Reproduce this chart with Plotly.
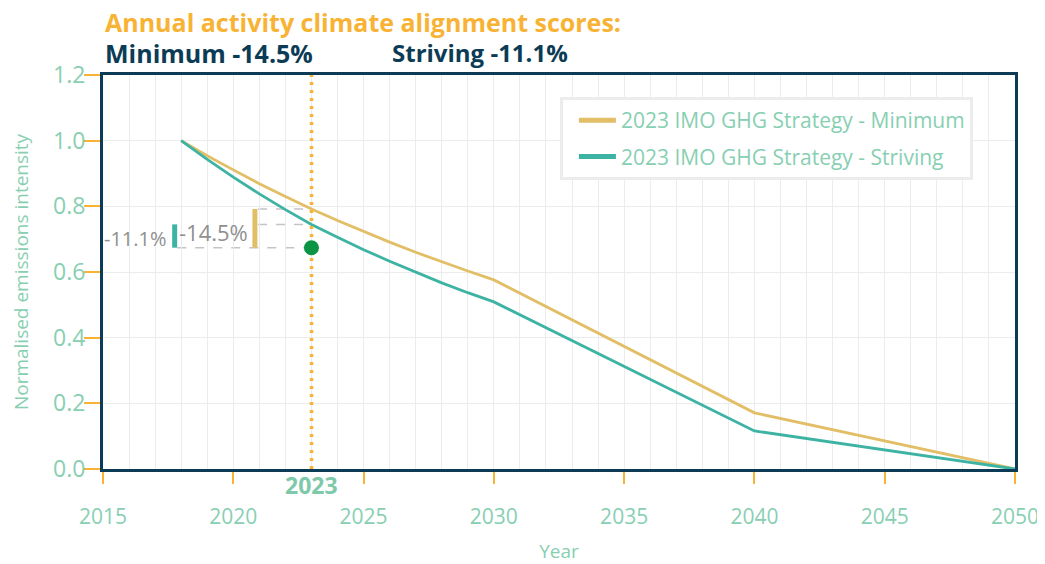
import plotly.graph_objects as go

# pathway values (normalised emissions intensity, 2018 = 1.0)
years = [2018, 2019, 2020, 2021, 2022, 2023, 2024, 2025, 2026, 2027, 2028, 2029, 2030, 2040, 2050]
minimum = [1.0, 0.954, 0.911, 0.869, 0.830, 0.792, 0.757, 0.723, 0.691, 0.660, 0.631, 0.603, 0.576, 0.171, 0.0]
striving = [1.0, 0.943, 0.889, 0.838, 0.790, 0.745, 0.706, 0.668, 0.633, 0.599, 0.567, 0.537, 0.509, 0.116, 0.0]

# reporting year + actual intensity
report_year = 2023
actual = 0.674
min_2023 = 0.792
striv_2023 = 0.745
score_min = "-14.5%"
score_striv = "-11.1%"

navy = "#0c3c55"
orange = "#f8b334"
green_txt = "#88cfb2"
gold = "#e2bf67"
teal = "#3db3a3"
font = "Open Sans"

fig = go.Figure()

fig.add_trace(go.Scatter(x=years, y=minimum, mode="lines", line=dict(color=gold, width=2.8),
                         showlegend=False, hoverinfo="skip"))
fig.add_trace(go.Scatter(x=years, y=striving, mode="lines", line=dict(color=teal, width=2.8),
                         showlegend=False, hoverinfo="skip"))

# legend only entries (thicker sample)
fig.add_trace(go.Scatter(x=[None], y=[None], mode="lines", line=dict(color=gold, width=5),
                         name="2023 IMO GHG Strategy - Minimum", legendgroup="a"))
fig.add_trace(go.Scatter(x=[None], y=[None], mode="lines", line=dict(color=teal, width=5),
                         name="2023 IMO GHG Strategy - Striving", legendgroup="b"))

# dotted reporting year line
fig.add_trace(go.Scatter(x=[report_year, report_year], y=[0, 1.2], mode="lines",
                         line=dict(color=orange, width=3.5, dash="3px,5px"),
                         showlegend=False, hoverinfo="skip"))

# gap markers
x_bar_min = 2020.83
x_bar_striv = 2017.75
dash_col = "#c4c4c4"
fig.add_shape(type="line", x0=x_bar_min + 0.12, x1=report_year, y0=min_2023, y1=min_2023,
              line=dict(color=dash_col, width=1.5, dash="dash"), layer="below")
fig.add_shape(type="line", x0=x_bar_min + 0.12, x1=report_year, y0=striv_2023, y1=striv_2023,
              line=dict(color=dash_col, width=1.5, dash="dash"), layer="below")
fig.add_shape(type="line", x0=x_bar_striv + 0.1, x1=report_year, y0=actual, y1=actual,
              line=dict(color=dash_col, width=1.5, dash="dash"), layer="below")
fig.add_shape(type="line", x0=x_bar_min, x1=x_bar_min, y0=actual, y1=min_2023,
              line=dict(color=gold, width=5))
fig.add_shape(type="line", x0=x_bar_striv, x1=x_bar_striv, y0=actual, y1=striv_2023,
              line=dict(color=teal, width=5))

fig.add_trace(go.Scatter(x=[report_year], y=[actual], mode="markers",
                         marker=dict(color="#0b9444", size=15), showlegend=False, hoverinfo="skip"))

fig.add_annotation(x=x_bar_min - 0.2, y=0.721, text=score_min, showarrow=False, xanchor="right",
                   font=dict(family=font, size=22, color="#909090"))
fig.add_annotation(x=x_bar_striv - 0.2, y=0.702, text=score_striv, showarrow=False, xanchor="right",
                   font=dict(family=font, size=20, color="#909090"))

# 2023 label under axis
fig.add_annotation(x=report_year, yref="paper", y=-0.041, text="<b>2023</b>", showarrow=False,
                   yanchor="middle", font=dict(family=font, size=23, color="#7dc9a9"))

# titles
fig.add_annotation(xref="paper", yref="paper", x=0, y=1.134, xanchor="left", yanchor="middle",
                   text="<b>Annual activity climate alignment scores:</b>", showarrow=False,
                   font=dict(family=font, size=25, color=orange))
fig.add_annotation(xref="paper", yref="paper", x=0, y=1.056, xanchor="left", yanchor="middle",
                   text="<b>Minimum " + score_min + "</b>", showarrow=False,
                   font=dict(family=font, size=25, color=navy))
fig.add_annotation(xref="paper", yref="paper", x=0.315, y=1.056, xanchor="left", yanchor="middle",
                   text="<b>Striving " + score_striv + "</b>", showarrow=False,
                   font=dict(family=font, size=24, color=navy))

# page body has an 8px margin, so figure is 8px smaller than the window
fig.update_layout(
    width=1037, height=556,
    margin=dict(l=95, r=30, t=67, b=95),
    plot_bgcolor="white", paper_bgcolor="white",
    font=dict(family=font, color=green_txt),
    legend=dict(x=0.501, y=0.944, xanchor="left", yanchor="top",
                bordercolor="#ececec", borderwidth=3, bgcolor="white",
                font=dict(size=21, color=green_txt), tracegroupgap=6,
                indentation=11, itemwidth=37),
)

fig.update_xaxes(range=[2015, 2050], dtick=5, tick0=2015, automargin=False,
                 showline=True, linecolor=navy, linewidth=3, mirror=True,
                 ticks="outside", ticklen=12, tickcolor=orange, tickwidth=1.5,
                 tickfont=dict(size=21, color=green_txt), ticklabelstandoff=15,
                 showgrid=True, gridcolor="#ececec", gridwidth=1,
                 minor=dict(dtick=1, showgrid=True, gridcolor="#ececec", gridwidth=1),
                 zeroline=False,
                 title=dict(text="Year", font=dict(size=19, color=green_txt), standoff=18))
fig.update_yaxes(range=[0, 1.2], dtick=0.2, tickformat=".1f", automargin=False,
                 showline=True, linecolor=navy, linewidth=3, mirror=True,
                 ticks="outside", ticklen=16, tickcolor=orange, tickwidth=1.5,
                 tickfont=dict(size=23, color=green_txt), ticklabelstandoff=-6,
                 showgrid=True, gridcolor="#ececec", gridwidth=1, zeroline=False,
                 title=dict(text="Normalised emissions intensity", font=dict(size=19, color=green_txt), standoff=25))

fig.write_html("out.html")
